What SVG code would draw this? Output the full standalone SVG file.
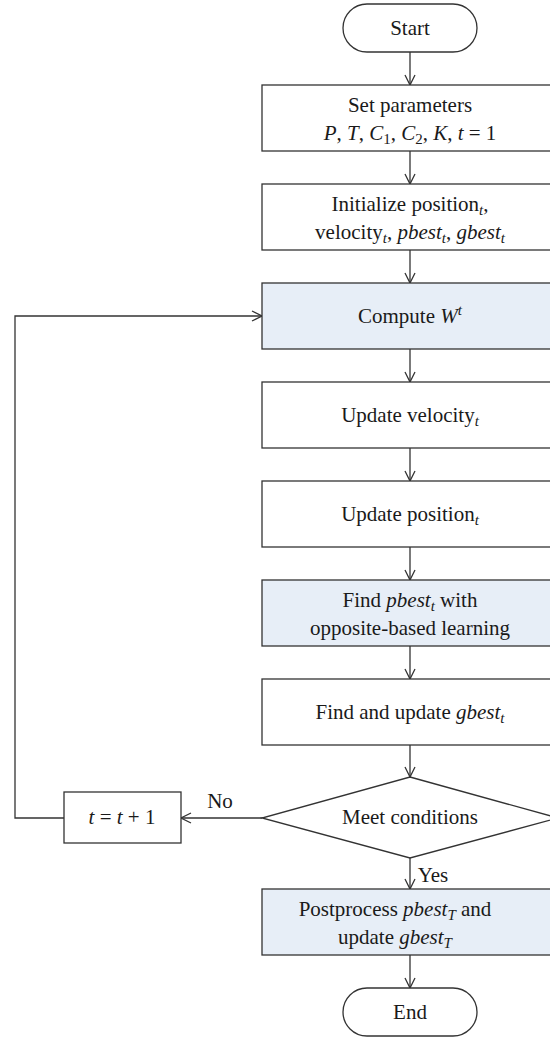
<svg xmlns="http://www.w3.org/2000/svg" width="550" height="1040" viewBox="0 0 550 1040" font-family="'Liberation Serif', 'DejaVu Serif', serif">
  <style>
    .box { fill: #ffffff; stroke: #333333; stroke-width: 1.3; }
    .hl { fill: #e7eef7; }
    .line { fill: none; stroke: #333333; stroke-width: 1.3; }
    text { font-family: 'Liberation Serif', 'DejaVu Serif', serif; font-size: 21px; fill: #1a1a1a; text-anchor: middle; }
    .i { font-style: italic; }
    .s { font-size: 15px; }
  </style>
  <defs>
    <marker id="arr" viewBox="0 0 12 12" refX="11" refY="6" markerWidth="12" markerHeight="12" markerUnits="userSpaceOnUse" orient="auto">
      <path d="M1,1 L11,6 L1,11" fill="none" stroke="#333333" stroke-width="1.3"/>
    </marker>
  </defs>

  <!-- connectors -->
  <g id="connectors">
    <line class="line" x1="410" y1="52" x2="410" y2="85" marker-end="url(#arr)"/>
    <line class="line" x1="410" y1="151" x2="410" y2="184" marker-end="url(#arr)"/>
    <line class="line" x1="410" y1="250" x2="410" y2="283" marker-end="url(#arr)"/>
    <line class="line" x1="410" y1="349" x2="410" y2="382" marker-end="url(#arr)"/>
    <line class="line" x1="410" y1="448" x2="410" y2="481" marker-end="url(#arr)"/>
    <line class="line" x1="410" y1="547" x2="410" y2="580" marker-end="url(#arr)"/>
    <line class="line" x1="410" y1="646" x2="410" y2="679" marker-end="url(#arr)"/>
    <line class="line" x1="410" y1="745" x2="410" y2="777" marker-end="url(#arr)"/>
    <line class="line" x1="410" y1="858" x2="410" y2="889" marker-end="url(#arr)"/>
    <line class="line" x1="410" y1="955" x2="410" y2="988" marker-end="url(#arr)"/>
    <line class="line" x1="262" y1="818" x2="181" y2="818" marker-end="url(#arr)"/>
    <polyline class="line" points="64,818 15,818 15,316 262,316" marker-end="url(#arr)"/>
    <text x="220" y="808">No</text>
    <text x="433" y="882">Yes</text>
  </g>

  <g id="start">
    <rect class="box" x="343" y="4" width="134" height="48" rx="24" ry="24"/>
    <text x="410" y="35">Start</text>
  </g>

  <g id="set-parameters">
    <rect class="box" x="262" y="85" width="296" height="66"/>
    <text x="410" y="112">Set parameters</text>
    <text x="410" y="140"><tspan class="i">P</tspan>, <tspan class="i">T</tspan>, <tspan class="i">C</tspan><tspan class="s" dy="4">1</tspan><tspan dy="-4">, </tspan><tspan class="i">C</tspan><tspan class="s" dy="4">2</tspan><tspan dy="-4">, </tspan><tspan class="i">K</tspan>, <tspan class="i">t</tspan> = 1</text>
  </g>

  <g id="initialize">
    <rect class="box" x="262" y="184" width="296" height="66"/>
    <text x="410" y="211">Initialize position<tspan class="s i" dy="4">t</tspan><tspan dy="-4">,</tspan></text>
    <text x="410" y="239">velocity<tspan class="s i" dy="4">t</tspan><tspan dy="-4">, </tspan><tspan class="i">pbest</tspan><tspan class="s i" dy="4">t</tspan><tspan dy="-4">, </tspan><tspan class="i">gbest</tspan><tspan class="s i" dy="4">t</tspan></text>
  </g>

  <g id="compute-w">
    <rect class="box hl" x="262" y="283" width="296" height="66"/>
    <text x="410" y="323">Compute <tspan class="i">W</tspan><tspan class="s i" dy="-8">t</tspan></text>
  </g>

  <g id="update-velocity">
    <rect class="box" x="262" y="382" width="296" height="66"/>
    <text x="410" y="422">Update velocity<tspan class="s i" dy="4">t</tspan></text>
  </g>

  <g id="update-position">
    <rect class="box" x="262" y="481" width="296" height="66"/>
    <text x="410" y="521">Update position<tspan class="s i" dy="4">t</tspan></text>
  </g>

  <g id="find-pbest">
    <rect class="box hl" x="262" y="580" width="296" height="66"/>
    <text x="410" y="607">Find <tspan class="i">pbest</tspan><tspan class="s i" dy="4">t</tspan><tspan dy="-4"> with</tspan></text>
    <text x="410" y="635">opposite-based learning</text>
  </g>

  <g id="find-gbest">
    <rect class="box" x="262" y="679" width="296" height="66"/>
    <text x="410" y="719">Find and update <tspan class="i">gbest</tspan><tspan class="s i" dy="4">t</tspan></text>
  </g>

  <g id="meet-conditions">
    <polygon class="box" points="410,777 558,818 410,858 262,818"/>
    <text x="410" y="824">Meet conditions</text>
  </g>

  <g id="increment-t">
    <rect class="box" x="64" y="792" width="117" height="51"/>
    <text x="122" y="824"><tspan class="i">t</tspan> = <tspan class="i">t</tspan> + 1</text>
  </g>

  <g id="postprocess">
    <rect class="box hl" x="262" y="889" width="296" height="66"/>
    <text x="395" y="916">Postprocess <tspan class="i">pbest</tspan><tspan class="s i" dy="4">T</tspan><tspan dy="-4"> and</tspan></text>
    <text x="395" y="944">update <tspan class="i">gbest</tspan><tspan class="s i" dy="4">T</tspan></text>
  </g>

  <g id="end">
    <rect class="box" x="343" y="988" width="134" height="48" rx="24" ry="24"/>
    <text x="410" y="1019">End</text>
  </g>
</svg>
